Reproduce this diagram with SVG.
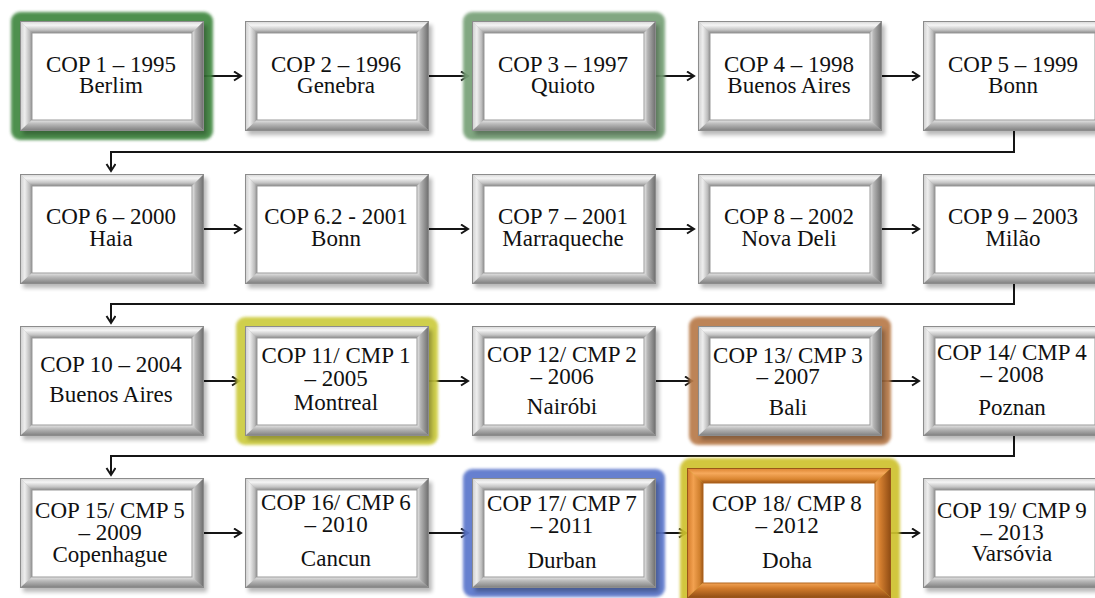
<svg xmlns="http://www.w3.org/2000/svg" width="1095" height="598" viewBox="0 0 1095 598" font-family="'Liberation Serif', 'DejaVu Serif', serif">
  <style>
    .lbl { font-size: 23px; fill: #111; text-anchor: middle; }
    .conn { fill: none; stroke: #151515; stroke-width: 2; }
    .glow { filter: url(#soft); }
  </style>
  <defs>
    <filter id="soft" x="-20%" y="-20%" width="140%" height="140%">
      <feGaussianBlur stdDeviation="1.6"/>
    </filter>
    <filter id="shade" x="-20%" y="-20%" width="140%" height="140%">
      <feGaussianBlur stdDeviation="2"/>
    </filter>
    <marker id="arrow" markerUnits="userSpaceOnUse" markerWidth="12" markerHeight="12" refX="8" refY="5" orient="auto">
      <path d="M1,0.5 L8,5 L1,9.5" fill="none" stroke="#151515" stroke-width="2"/>
    </marker>

    <!-- grey bevel faces -->
    <linearGradient id="gTop" x1="0" y1="0" x2="0" y2="1">
      <stop offset="0" stop-color="#d4d4d4"/>
      <stop offset="0.35" stop-color="#f5f5f5"/>
      <stop offset="0.75" stop-color="#c2c2c2"/>
      <stop offset="1" stop-color="#8a8a8a"/>
    </linearGradient>
    <linearGradient id="gLeft" x1="0" y1="0" x2="1" y2="0">
      <stop offset="0" stop-color="#cccccc"/>
      <stop offset="0.4" stop-color="#eeeeee"/>
      <stop offset="0.8" stop-color="#bcbcbc"/>
      <stop offset="1" stop-color="#8e8e8e"/>
    </linearGradient>
    <linearGradient id="gRight" x1="0" y1="0" x2="1" y2="0">
      <stop offset="0" stop-color="#ececec"/>
      <stop offset="0.3" stop-color="#b4b4b4"/>
      <stop offset="1" stop-color="#6a6a6a"/>
    </linearGradient>
    <linearGradient id="gBottom" x1="0" y1="0" x2="0" y2="1">
      <stop offset="0" stop-color="#e6e6e6"/>
      <stop offset="0.35" stop-color="#bababa"/>
      <stop offset="1" stop-color="#7c7c7c"/>
    </linearGradient>

    <!-- orange bevel faces -->
    <linearGradient id="oTop" x1="0" y1="0" x2="0" y2="1">
      <stop offset="0" stop-color="#d9802c"/>
      <stop offset="0.35" stop-color="#f6a95c"/>
      <stop offset="0.75" stop-color="#d98530"/>
      <stop offset="1" stop-color="#9c5516"/>
    </linearGradient>
    <linearGradient id="oLeft" x1="0" y1="0" x2="1" y2="0">
      <stop offset="0" stop-color="#d27a28"/>
      <stop offset="0.4" stop-color="#f2a150"/>
      <stop offset="0.8" stop-color="#d0802e"/>
      <stop offset="1" stop-color="#9a5518"/>
    </linearGradient>
    <linearGradient id="oRight" x1="0" y1="0" x2="1" y2="0">
      <stop offset="0" stop-color="#f4a960"/>
      <stop offset="0.3" stop-color="#d68030"/>
      <stop offset="1" stop-color="#8d4a12"/>
    </linearGradient>
    <linearGradient id="oBottom" x1="0" y1="0" x2="0" y2="1">
      <stop offset="0" stop-color="#f3a456"/>
      <stop offset="0.35" stop-color="#d37c2c"/>
      <stop offset="1" stop-color="#8f4c14"/>
    </linearGradient>

    <!-- bevelled frame, 184 x 110 -->
    <symbol id="frame" viewBox="0 0 184 110" width="184" height="110" overflow="visible">
      <rect x="3" y="4" width="184" height="110" fill="#000" opacity="0.28" filter="url(#shade)"/>
      <rect x="0" y="0" width="184" height="110" fill="#bbb"/>
      <polygon points="0,0 184,0 172,12 12,12" fill="url(#gTop)"/>
      <polygon points="0,0 12,12 12,99 0,110" fill="url(#gLeft)"/>
      <polygon points="184,0 184,110 172,99 172,12" fill="url(#gRight)"/>
      <polygon points="0,110 12,99 172,99 184,110" fill="url(#gBottom)"/>
      <rect x="12" y="12" width="160" height="87" fill="#fff" stroke="#9a9a9a" stroke-width="1"/>
      <rect x="0.5" y="0.5" width="183" height="109" fill="none" stroke="#8c8c8c" stroke-width="1"/>
    </symbol>

    <!-- orange bevelled frame, 204 x 130 -->
    <symbol id="frameO" viewBox="0 0 204 130" width="204" height="130" overflow="visible">
      <polygon points="0,0 204,0 188,15 16,15" fill="url(#oTop)"/>
      <polygon points="0,0 16,15 16,115 0,130" fill="url(#oLeft)"/>
      <polygon points="204,0 204,130 188,115 188,15" fill="url(#oRight)"/>
      <polygon points="0,130 16,115 188,115 204,130" fill="url(#oBottom)"/>
      <rect x="16" y="15" width="172" height="100" fill="#fff" stroke="#b0641e" stroke-width="1"/>
      <rect x="0.5" y="0.5" width="203" height="129" fill="none" stroke="#9a5518" stroke-width="1"/>
    </symbol>
  </defs>

  <rect width="1095" height="598" fill="#fff"/>

  <!-- connectors -->
  <g id="connectors">
    <line class="conn" x1="204" y1="76" x2="241" y2="76" marker-end="url(#arrow)"/>
    <line class="conn" x1="429" y1="76" x2="468" y2="76" marker-end="url(#arrow)"/>
    <line class="conn" x1="656" y1="76" x2="694" y2="76" marker-end="url(#arrow)"/>
    <line class="conn" x1="882" y1="76" x2="919" y2="76" marker-end="url(#arrow)"/>
    <path class="conn" d="M1014,131 V152 H111 V171" marker-end="url(#arrow)"/>

    <line class="conn" x1="204" y1="229" x2="241" y2="229" marker-end="url(#arrow)"/>
    <line class="conn" x1="429" y1="229" x2="468" y2="229" marker-end="url(#arrow)"/>
    <line class="conn" x1="656" y1="229" x2="694" y2="229" marker-end="url(#arrow)"/>
    <line class="conn" x1="882" y1="229" x2="919" y2="229" marker-end="url(#arrow)"/>
    <path class="conn" d="M1014,284 V304 H111 V323" marker-end="url(#arrow)"/>

    <line class="conn" x1="204" y1="381" x2="239" y2="381" marker-end="url(#arrow)"/>
    <line class="conn" x1="429" y1="381" x2="468" y2="381" marker-end="url(#arrow)"/>
    <line class="conn" x1="656" y1="381" x2="692" y2="381" marker-end="url(#arrow)"/>
    <line class="conn" x1="882" y1="381" x2="919" y2="381" marker-end="url(#arrow)"/>
    <path class="conn" d="M1014,436 V456 H111 V475" marker-end="url(#arrow)"/>

    <line class="conn" x1="204" y1="533" x2="241" y2="533" marker-end="url(#arrow)"/>
    <line class="conn" x1="429" y1="533" x2="468" y2="533" marker-end="url(#arrow)"/>
    <line class="conn" x1="656" y1="533" x2="686" y2="533" marker-end="url(#arrow)"/>
    <line class="conn" x1="891" y1="533" x2="919" y2="533" marker-end="url(#arrow)"/>
  </g>

  <!-- row 1 -->
  <g id="cop1">
    <rect class="glow" x="11" y="12" width="202" height="128" rx="9" fill="#3f873f" opacity="0.92"/>
    <use href="#frame" x="20" y="21"/>
    <text class="lbl" x="111" y="72">COP 1 – 1995</text>
    <text class="lbl" x="111" y="93">Berlim</text>
  </g>
  <g id="cop2">
    <use href="#frame" x="245" y="21"/>
    <text class="lbl" x="336" y="72">COP 2 – 1996</text>
    <text class="lbl" x="336" y="93">Genebra</text>
  </g>
  <g id="cop3">
    <rect class="glow" x="463" y="12" width="202" height="128" rx="9" fill="#77a077" opacity="0.92"/>
    <use href="#frame" x="472" y="21"/>
    <text class="lbl" x="563" y="72">COP 3 – 1997</text>
    <text class="lbl" x="563" y="93">Quioto</text>
  </g>
  <g id="cop4">
    <use href="#frame" x="698" y="21"/>
    <text class="lbl" x="789" y="72">COP 4 – 1998</text>
    <text class="lbl" x="789" y="93">Buenos Aires</text>
  </g>
  <g id="cop5">
    <use href="#frame" x="923" y="21"/>
    <text class="lbl" x="1013" y="72">COP 5 – 1999</text>
    <text class="lbl" x="1013" y="93">Bonn</text>
  </g>

  <!-- row 2 -->
  <g id="cop6">
    <use href="#frame" x="20" y="174"/>
    <text class="lbl" x="111" y="224">COP 6 – 2000</text>
    <text class="lbl" x="111" y="246">Haia</text>
  </g>
  <g id="cop6-2">
    <use href="#frame" x="245" y="174"/>
    <text class="lbl" x="336" y="224">COP 6.2 - 2001</text>
    <text class="lbl" x="336" y="246">Bonn</text>
  </g>
  <g id="cop7">
    <use href="#frame" x="472" y="174"/>
    <text class="lbl" x="563" y="224">COP 7 – 2001</text>
    <text class="lbl" x="563" y="246">Marraqueche</text>
  </g>
  <g id="cop8">
    <use href="#frame" x="698" y="174"/>
    <text class="lbl" x="789" y="224">COP 8 – 2002</text>
    <text class="lbl" x="789" y="246">Nova Deli</text>
  </g>
  <g id="cop9">
    <use href="#frame" x="923" y="174"/>
    <text class="lbl" x="1013" y="224">COP 9 – 2003</text>
    <text class="lbl" x="1013" y="246">Milão</text>
  </g>

  <!-- row 3 -->
  <g id="cop10">
    <use href="#frame" x="20" y="326"/>
    <text class="lbl" x="111" y="372">COP 10 – 2004</text>
    <text class="lbl" x="111" y="402">Buenos Aires</text>
  </g>
  <g id="cop11">
    <rect class="glow" x="236" y="317" width="202" height="128" rx="9" fill="#cccb3e" opacity="0.92"/>
    <use href="#frame" x="245" y="326"/>
    <text class="lbl" x="336" y="363">COP 11/ CMP 1</text>
    <text class="lbl" x="336" y="386">– 2005</text>
    <text class="lbl" x="336" y="410">Montreal</text>
  </g>
  <g id="cop12">
    <use href="#frame" x="472" y="326"/>
    <text class="lbl" x="562" y="362">COP 12/ CMP 2</text>
    <text class="lbl" x="562" y="384">– 2006</text>
    <text class="lbl" x="562" y="414">Nairóbi</text>
  </g>
  <g id="cop13">
    <rect class="glow" x="689" y="317" width="202" height="128" rx="9" fill="#b87a49" opacity="0.92"/>
    <use href="#frame" x="698" y="326"/>
    <text class="lbl" x="788" y="363">COP 13/ CMP 3</text>
    <text class="lbl" x="788" y="384">– 2007</text>
    <text class="lbl" x="788" y="415">Bali</text>
  </g>
  <g id="cop14">
    <use href="#frame" x="923" y="326"/>
    <text class="lbl" x="1012" y="360">COP 14/ CMP 4</text>
    <text class="lbl" x="1012" y="382">– 2008</text>
    <text class="lbl" x="1012" y="415">Poznan</text>
  </g>

  <!-- row 4 -->
  <g id="cop15">
    <use href="#frame" x="20" y="478"/>
    <text class="lbl" x="110" y="518">COP 15/ CMP 5</text>
    <text class="lbl" x="110" y="540">– 2009</text>
    <text class="lbl" x="110" y="562">Copenhague</text>
  </g>
  <g id="cop16">
    <use href="#frame" x="245" y="478"/>
    <text class="lbl" x="336" y="510">COP 16/ CMP 6</text>
    <text class="lbl" x="336" y="532">– 2010</text>
    <text class="lbl" x="336" y="566">Cancun</text>
  </g>
  <g id="cop17">
    <rect class="glow" x="463" y="469" width="202" height="128" rx="9" fill="#5a76cb" opacity="0.92"/>
    <use href="#frame" x="472" y="478"/>
    <text class="lbl" x="562" y="511">COP 17/ CMP 7</text>
    <text class="lbl" x="562" y="533">– 2011</text>
    <text class="lbl" x="562" y="568">Durban</text>
  </g>
  <g id="cop18">
    <rect class="glow" x="680" y="458" width="220" height="152" rx="11" fill="#cfc22e" opacity="0.92"/>
    <use href="#frameO" x="687" y="468"/>
    <text class="lbl" x="787" y="511">COP 18/ CMP 8</text>
    <text class="lbl" x="787" y="533">– 2012</text>
    <text class="lbl" x="787" y="568">Doha</text>
  </g>
  <g id="cop19">
    <use href="#frame" x="923" y="478"/>
    <text class="lbl" x="1012" y="518">COP 19/ CMP 9</text>
    <text class="lbl" x="1012" y="540">– 2013</text>
    <text class="lbl" x="1012" y="561">Varsóvia</text>
  </g>
</svg>
